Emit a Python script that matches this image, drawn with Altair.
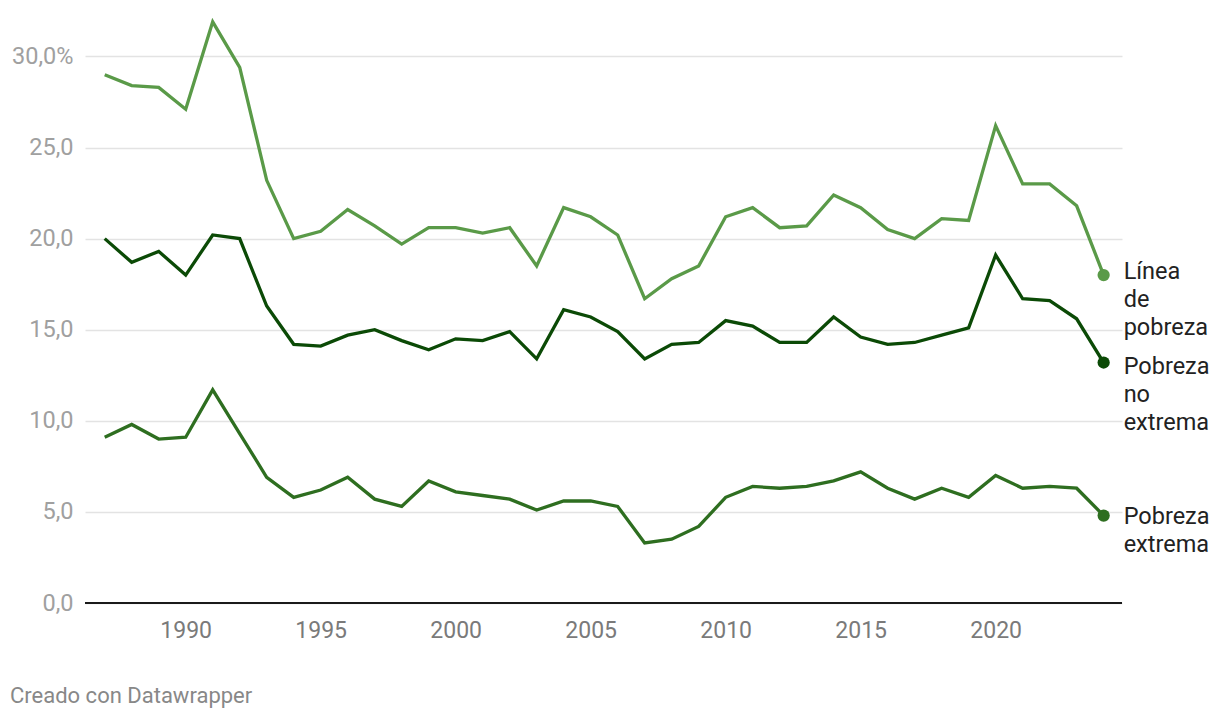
import altair as alt
import pandas as pd

years = list(range(1987, 2025))

linea_pobreza = [29.0, 28.4, 28.3, 27.1, 31.9, 29.4, 23.2, 20.0, 20.4, 21.6,
                 20.7, 19.7, 20.6, 20.6, 20.3, 20.6, 18.5, 21.7, 21.2, 20.2,
                 16.7, 17.8, 18.5, 21.2, 21.7, 20.6, 20.7, 22.4, 21.7, 20.5,
                 20.0, 21.1, 21.0, 26.2, 23.0, 23.0, 21.8, 18.0]

pobreza_no_extrema = [20.0, 18.7, 19.3, 18.0, 20.2, 20.0, 16.3, 14.2, 14.1, 14.7,
                      15.0, 14.4, 13.9, 14.5, 14.4, 14.9, 13.4, 16.1, 15.7, 14.9,
                      13.4, 14.2, 14.3, 15.5, 15.2, 14.3, 14.3, 15.7, 14.6, 14.2,
                      14.3, 14.7, 15.1, 19.1, 16.7, 16.6, 15.6, 13.2]

pobreza_extrema = [9.1, 9.8, 9.0, 9.1, 11.7, 9.3, 6.9, 5.8, 6.2, 6.9,
                   5.7, 5.3, 6.7, 6.1, 5.9, 5.7, 5.1, 5.6, 5.6, 5.3,
                   3.3, 3.5, 4.2, 5.8, 6.4, 6.3, 6.4, 6.7, 7.2, 6.3,
                   5.7, 6.3, 5.8, 7.0, 6.3, 6.4, 6.3, 4.8]

series_names = ["Línea de pobreza", "Pobreza no extrema", "Pobreza extrema"]
series_labels = ["Línea\nde\npobreza", "Pobreza\nno\nextrema", "Pobreza\nextrema"]
series_colors = ["#5a9a48", "#0b4a06", "#2e6e20"]

y_ticks = [0, 5, 10, 15, 20, 25, 30]
x_ticks = [1990, 1995, 2000, 2005, 2010, 2015, 2020]

rows = []
for name, label, vals in zip(series_names, series_labels,
                             [linea_pobreza, pobreza_no_extrema, pobreza_extrema]):
    for yr, v in zip(years, vals):
        rows.append({"year": yr, "value": v, "serie": name, "label": label})
df = pd.DataFrame(rows)

W = 1037
H = 583

x_scale = alt.Scale(domain=[1986.27, 2024.68], nice=False, zero=False)
y_scale = alt.Scale(domain=[0, 32], nice=False)
color_scale = alt.Scale(domain=series_names, range=series_colors)

x_enc = alt.X("year:Q", scale=x_scale,
              axis=alt.Axis(values=x_ticks, format="d", grid=False, domain=False,
                            ticks=False, tickSize=0, labelPadding=16, labelFontSize=23,
                            labelColor="#7a7a7a", labelFont="Roboto", title=None))
y_enc = alt.Y("value:Q", scale=y_scale,
              axis=alt.Axis(values=y_ticks, grid=True, gridColor="#e3e3e3", gridWidth=1.5,
                            domain=False, ticks=False, tickSize=0, labelPadding=12,
                            labelFontSize=23.5, labelColor="#a0a0a0", labelFont="Roboto",
                            labelExpr="datum.value == 30 ? '30,0%' : replace(format(datum.value, '.1f'), '.', ',')",
                            title=None))

base = alt.Chart(df)

lines = base.mark_line(strokeWidth=3.3, strokeJoin="miter").encode(
    x=x_enc, y=y_enc,
    color=alt.Color("serie:N", scale=color_scale, legend=None),
    detail="serie:N",
)

last = base.transform_filter(alt.datum.year == 2024)

dots = last.mark_circle(size=150, opacity=1).encode(
    x="year:Q", y="value:Q",
    color=alt.Color("serie:N", scale=color_scale, legend=None),
)

# vertical nudges so the label blocks do not collide (as in the original)
label_dy = {"Línea de pobreza": -15, "Pobreza no extrema": -8, "Pobreza extrema": -11}
label_layers = []
for name in series_names:
    label_layers.append(
        last.transform_filter(alt.datum.serie == name).mark_text(
            align="left", baseline="top", dx=20, dy=label_dy[name], fontSize=23.5,
            font="Roboto", color="#222222", lineBreak="\n", lineHeight=28,
        ).encode(x="year:Q", y="value:Q", text="label:N")
    )

zero_line = alt.Chart(pd.DataFrame({"z": [0]})).mark_rule(color="#1a1a1a", strokeWidth=2).encode(
    y=alt.Y("z:Q", scale=y_scale),
    x=alt.value(0), x2=alt.value(W),
)

chart = alt.layer(lines, zero_line, dots, *label_layers).properties(
    width=W, height=H,
    background="white",
    autosize=alt.AutoSizeParams(type="none"),
    padding={"left": 77, "top": 12, "right": 90, "bottom": 117},
    title=alt.TitleParams(text="Creado con Datawrapper", orient="bottom", anchor="start",
                          frame="group", dx=-75, offset=44, fontSize=22, color="#888888",
                          font="Roboto", fontWeight="normal"),
).configure_view(strokeWidth=0, stroke="transparent")

chart.save("out.html", embed_options={"renderer": "svg", "actions": False})
